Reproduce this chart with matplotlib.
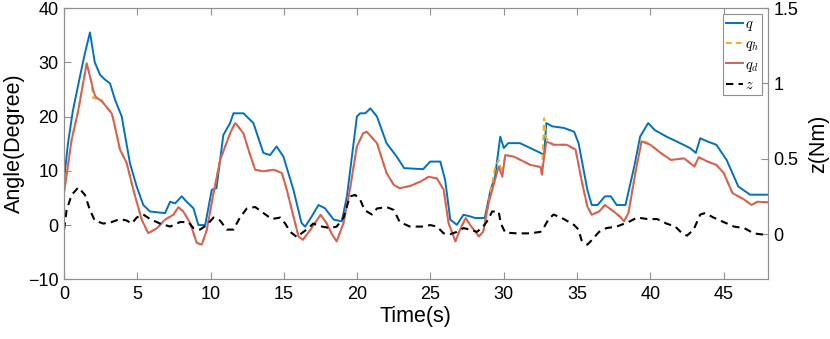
import matplotlib

matplotlib.use("Agg")

import matplotlib.pyplot as plt  # noqa: E402

plt.rcParams["font.family"] = ["Liberation Sans", "DejaVu Sans"]
plt.rcParams["mathtext.fontset"] = "cm"

# Joint angle q (blue)
q_t = [0, 0.27, 0.6, 1.09, 1.43, 1.77, 2.1, 2.46, 2.8, 3.14, 3.48, 3.94, 4.1, 4.5,
       4.96, 5.41, 5.87, 6.89, 7.24, 7.58, 8.03, 8.37, 8.83, 9.17, 9.63, 10.08, 10.4,
       10.87, 11.33, 11.56, 12.24, 12.92, 13.6, 14.06, 14.5, 14.97, 15.65, 16.2, 16.45,
       16.9, 17.36, 17.8, 18.4, 18.95, 19.3, 19.98, 20.2, 20.55, 20.9, 21.35, 22.0,
       22.7, 23.2, 24.5, 24.98, 25.67, 26.0, 26.35, 26.8, 27.25, 27.7, 28.05, 28.7,
       29.1, 29.4, 29.76, 30.0, 30.3, 31.1, 32.5, 32.75, 32.9, 33.3, 34.1, 34.8, 35.1,
       35.7, 36.0, 36.4, 36.9, 37.3, 37.7, 38.3, 38.9, 39.3, 39.85, 40.3, 41.1, 41.8,
       42.7, 43.1, 43.4, 43.9, 44.5, 45.2, 46.0, 46.8, 48.0]
q = [8.3, 15, 21, 27.4, 31.7, 35.5, 30, 27.7, 26.8, 26.1, 23.1, 20, 17.5, 11.4,
     7.1, 3.7, 2.5, 2.2, 4.3, 4.0, 5.3, 4.3, 3.1, 0.0, 0.0, 6.5, 6.8,
     16.6, 18.8, 20.6, 20.6, 18.8, 13.3, 12.9, 14.5, 12.6, 6.5, 0.4, -0.3,
     1.6, 3.7, 3.1, 1.0, 0.7, 5.3, 20.0, 20.6, 20.6, 21.5, 20.0, 15.1,
     12.6, 10.5, 10.3, 11.7, 11.7, 8.3, 1.0, 0.05, 1.9, 1.6, 1.3, 1.3,
     6.5, 8.9, 16.3, 14.2, 15.1, 15.1, 13.3, 12.9, 18.8, 18.2, 17.9, 17.2, 15.1,
     6.5, 3.7, 3.7, 5.3, 5.3, 3.7, 3.7, 10.8, 16.3, 18.8, 17.5, 16.3, 15.4,
     14.2, 13.3, 16.0, 15.4, 14.8, 12.0, 7.1, 5.6, 5.6]

# q_h (orange dashed) and q_d (red) share one time base
qd_t = [0, 0.52, 0.98, 1.3, 1.55, 1.89, 2.0, 2.14, 2.57, 2.68, 3.25, 3.37, 3.82, 4.28,
        4.73, 5.3, 5.75, 6.33, 6.89, 7.46, 7.8, 8.14, 8.6, 9.06, 9.4, 9.74, 10.2,
        10.65, 11.33, 11.67, 11.79, 12.24, 12.58, 13.04, 13.6, 14.3, 14.86, 15.2,
        15.65, 16.0, 16.3, 16.8, 17.5, 17.9, 18.3, 18.6, 19.07, 19.5, 19.98, 20.4,
        20.65, 21.35, 22.0, 22.5, 22.9, 23.6, 24.3, 24.87, 25.44, 25.9, 26.23, 26.7,
        27.0, 27.4, 27.7, 28.3, 28.6, 28.96, 29.4, 29.65, 29.9, 30.1, 30.7, 31.8,
        32.5, 32.6, 32.75, 32.9, 33.4, 34.3, 34.9, 35.3, 35.7, 36.0, 36.5, 36.9,
        37.5, 37.95, 38.2, 38.5, 39.0, 39.4, 40.0, 40.7, 41.4, 42.3, 43.0, 43.3,
        43.9, 44.5, 45.0, 45.6, 46.4, 46.9, 47.3, 48.0]
q_d = [5.9, 15.7, 21.2, 26.1, 29.8, 26.1, 24.8, 23.7, 22.8, 22.5, 20.6, 19.4, 13.9, 11.4,
       6.5, 1.0, -1.5, -0.6, 1.0, 1.9, 3.3, 2.5, 0.4, -3.3, -3.6, -0.9, 5.9,
       12.0, 16.9, 18.8, 18.5, 16.9, 13.9, 10.2, 9.9, 10.2, 9.6, 6.5,
       1.6, -2.1, -2.7, -0.9, 1.9, 0.4, -1.8, -3.0, 0.4, 6.5, 14.5, 16.9,
       17.2, 15.1, 9.6, 7.4, 6.8, 7.2, 8.0, 8.9, 8.6, 6.5, 0.4, -3.0,
       -0.9, 1.3, 0.05, -2.1, -1.2, 4.0, 8.3, 10.8, 8.9, 12.9, 12.6, 11.1,
       10.7, 9.3, 12.5, 15.4, 14.8, 14.8, 13.9, 8.3, 3.4, 1.9, 2.5, 3.7,
       2.5, 1.5, 0.7, 2.2, 9.9, 15.4, 14.8, 13.3, 12.0, 12.3, 10.8, 12.5,
       11.7, 11.1, 9.6, 5.9, 4.7, 3.7, 4.3, 4.2]
q_h = [5.9, 15.7, 21.2, 26.1, 29.8, 26.1, 23.4, 23.3, 23.1, 22.5, 20.6, 19.4, 13.9, 11.4,
       6.5, 1.0, -1.5, -0.6, 1.0, 1.9, 3.3, 2.5, 0.4, -3.3, -3.6, -0.9, 5.9,
       12.0, 16.9, 18.8, 18.5, 16.9, 13.9, 10.2, 9.9, 10.2, 9.6, 6.5,
       1.6, -2.1, -2.7, -0.9, 1.9, 0.4, -1.8, -3.0, 0.4, 6.5, 14.5, 16.9,
       17.2, 15.1, 9.6, 7.4, 6.8, 7.2, 8.0, 8.9, 8.6, 6.5, 0.4, -3.0,
       -0.9, 1.3, 0.05, -2.1, -1.2, 4.0, 10.5, 12.0, 9.5, 12.9, 12.6, 11.1,
       10.7, 9.3, 19.7, 16.0, 14.8, 14.8, 13.9, 8.3, 3.4, 1.9, 2.5, 3.7,
       2.5, 1.5, 0.7, 2.2, 10.3, 15.8, 14.8, 13.3, 12.0, 12.3, 10.8, 12.5,
       11.7, 11.1, 9.6, 5.9, 4.7, 3.7, 4.3, 4.2]

# Torque z on the right axis
z_t = [0, 0.18, 0.52, 0.98, 1.43, 1.77, 2.1, 2.68, 3.25, 3.82, 4.28, 4.62, 4.96, 5.41,
       5.87, 6.55, 7.24, 7.92, 8.48, 8.83, 9.28, 9.74, 10.2, 10.65, 11.1, 11.56, 12.0,
       12.47, 13.04, 13.6, 14.18, 14.75, 15.09, 15.43, 15.9, 16.2, 16.68, 17.0, 17.6,
       18.16, 18.6, 19.07, 19.5, 19.86, 20.2, 20.5, 21.0, 21.35, 22.0, 22.5, 22.9,
       23.6, 24.5, 24.98, 25.44, 25.9, 26.35, 26.8, 27.25, 27.7, 28.17, 28.6, 28.96,
       29.2, 29.65, 29.8, 30.1, 30.9, 31.8, 32.5, 32.77, 33.06, 33.4, 34.1, 34.8,
       35.1, 35.3, 35.7, 36.0, 36.5, 37.0, 37.7, 38.5, 39.1, 39.8, 40.45, 41.1, 41.7,
       42.17, 42.5, 42.95, 43.4, 43.75, 44.3, 45.0, 45.7, 46.4, 47.05, 48.0]
z = [0.03, 0.16, 0.26, 0.31, 0.26, 0.16, 0.09, 0.07, 0.08, 0.10, 0.09, 0.07, 0.11, 0.13,
     0.10, 0.07, 0.05, 0.08, 0.08, 0.04, 0.03, 0.06, 0.11, 0.09, 0.03, 0.03, 0.11,
     0.17, 0.18, 0.14, 0.10, 0.11, 0.07, 0.015, -0.02, 0.005, 0.04, 0.07, 0.05,
     0.04, 0.05, 0.11, 0.25, 0.26, 0.23, 0.16, 0.13, 0.17, 0.18, 0.16, 0.08,
     0.05, 0.05, 0.06, 0.05, 0.005, 0.0, 0.015, 0.04, 0.03, 0.015, 0.05, 0.10,
     0.15, 0.15, 0.07, 0.01, 0.005, 0.005, 0.015, 0.05, 0.10, 0.13, 0.10, 0.06,
     0.03, -0.04, -0.07, -0.04, 0.015, 0.04, 0.05, 0.08, 0.11, 0.10, 0.10, 0.07, 0.05,
     0.005, -0.01, 0.03, 0.13, 0.14, 0.11, 0.08, 0.05, 0.04, 0.005, -0.007]

x_ticks = [0, 5, 10, 15, 20, 25, 30, 35, 40, 45]
left_ticks = [-10, 0, 10, 20, 30, 40]
right_ticks = [0, 0.5, 1, 1.5]
right_labels = ["0", "0.5", "1", "1.5"]

AXIS_GRAY = "#8f8f8f"

fig = plt.figure(figsize=(8.3, 3.39), dpi=100)
ax = fig.add_axes([0.0771, 0.176, 0.8478, 0.8003])
ax2 = ax.twinx()

l_q, = ax.plot(q_t, q, color="#0072BD", lw=1.4, label="$q$")
l_qh, = ax.plot(qd_t, q_h, color="#EDB120", lw=1.4, ls=(0, (3, 2)), label="$q_h$")
l_qd, = ax.plot(qd_t, q_d, color="#D75F58", lw=1.4, label="$q_d$")
l_z, = ax2.plot(z_t, z, color="black", lw=1.5, ls=(0, (3.5, 2.5)), label="$z$")

ax.set_xlim(0, 48)
ax.set_ylim(-10, 40)
ax2.set_ylim(-0.3, 1.5)
ax.set_xticks(x_ticks)
ax.set_yticks(left_ticks)
ax2.set_yticks(right_ticks)
ax2.set_yticklabels(right_labels)

for a in (ax, ax2):
    for s in a.spines.values():
        s.set_color(AXIS_GRAY)
        s.set_linewidth(0.8)
ax.tick_params(axis="x", top=True, direction="in", length=5, color=AXIS_GRAY,
               labelsize=13, pad=5)
ax.tick_params(axis="y", direction="in", length=5, color=AXIS_GRAY, labelsize=13, pad=4)
ax2.tick_params(axis="y", direction="in", length=5, color=AXIS_GRAY, labelsize=13, pad=4)

ax.set_xlabel("Time(s)", fontsize=15.5, labelpad=2)
ax.set_ylabel("Angle(Degree)", fontsize=15.5)
ax.yaxis.set_label_coords(-0.055, 0.5)
ax2.set_ylabel("z(Nm)", fontsize=15.5)
ax2.yaxis.set_label_coords(1.057, 0.5)

leg = ax2.legend(handles=[l_q, l_qh, l_qd, l_z], loc="upper right", fontsize=10.5,
                 handlelength=1.15, handletextpad=0.15, labelspacing=0.3,
                 borderpad=0.2, borderaxespad=0.4, fancybox=False, framealpha=1)
leg.get_frame().set_edgecolor(AXIS_GRAY)
leg.get_frame().set_linewidth(0.8)

fig.savefig("out.png", dpi=100)
